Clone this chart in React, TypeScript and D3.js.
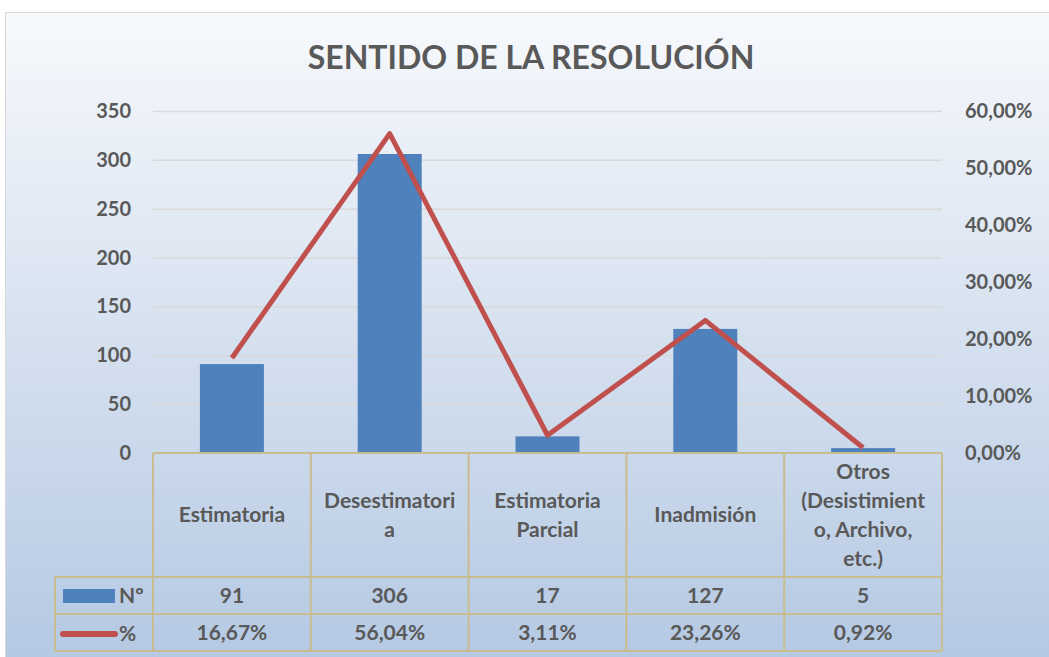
import React, { useRef, useLayoutEffect } from 'react';
import * as d3 from 'd3';

const categories = [
  ['Estimatoria'],
  ['Desestimatori', 'a'],
  ['Estimatoria', 'Parcial'],
  ['Inadmisión'],
  ['Otros', '(Desistimient', 'o, Archivo,', 'etc.)'],
];
const counts = [91, 306, 17, 127, 5];
const percents = [16.67, 56.04, 3.11, 23.26, 0.92];
const leftTicks = [0, 50, 100, 150, 200, 250, 300, 350];
const rightTicks = [0, 10, 20, 30, 40, 50, 60];

const fmtPct = (v: number) => v.toFixed(2).replace('.', ',') + '%';

const App = () => {
  const width = 1049;
  const height = 657;
  const ref = useRef(null);

  useLayoutEffect(() => {
    const svg = d3.select(ref.current);
    svg.selectAll('*').remove();

    const font = 'Lato, "Open Sans", sans-serif';
    const textColor = '#595959';
    const borderColor = '#C9BC8E';
    const plot = { left: 153, right: 942, top: 111, bottom: 453 };

    const defs = svg.append('defs');
    const grad = defs
      .append('linearGradient')
      .attr('id', 'bg')
      .attr('x1', 0)
      .attr('y1', 0)
      .attr('x2', 0)
      .attr('y2', 1);
    grad.append('stop').attr('offset', '0%').attr('stop-color', '#F7F9FC');
    grad.append('stop').attr('offset', '100%').attr('stop-color', '#B5C9E3');

    svg
      .append('rect')
      .attr('x', 5.5)
      .attr('y', 12.5)
      .attr('width', width - 5)
      .attr('height', height - 12)
      .attr('fill', 'url(#bg)')
      .attr('stroke', '#D9D9D9');

    svg
      .append('text')
      .text('SENTIDO DE LA RESOLUCIÓN')
      .attr('x', 531)
      .attr('y', 69)
      .attr('text-anchor', 'middle')
      .attr('font-family', font)
      .attr('font-weight', 'bold')
      .attr('font-size', 32)
      .attr('fill', textColor);

    const x = d3
      .scaleBand<number>()
      .domain(d3.range(categories.length))
      .range([plot.left, plot.right])
      .paddingInner(0)
      .paddingOuter(0);
    const y = d3.scaleLinear().domain([0, 350]).range([plot.bottom, plot.top]);
    const y2 = d3.scaleLinear().domain([0, 60]).range([plot.bottom, plot.top]);

    // gridlines
    svg
      .append('g')
      .selectAll('line')
      .data(leftTicks.slice(1))
      .enter()
      .append('line')
      .attr('x1', plot.left)
      .attr('x2', plot.right)
      .attr('y1', (d) => y(d) + 0.5)
      .attr('y2', (d) => y(d) + 0.5)
      .attr('stroke', '#D9D9D9')
      .attr('stroke-width', 1.5);

    // left axis labels
    svg
      .append('g')
      .selectAll('text')
      .data(leftTicks)
      .enter()
      .append('text')
      .text((d) => String(d))
      .attr('x', 131)
      .attr('y', (d) => y(d) + 7)
      .attr('text-anchor', 'end')
      .attr('font-family', font)
      .attr('font-weight', 'bold')
      .attr('font-size', 20)
      .attr('fill', textColor);

    // right axis labels
    svg
      .append('g')
      .selectAll('text')
      .data(rightTicks)
      .enter()
      .append('text')
      .text((d) => fmtPct(d))
      .attr('x', 965)
      .attr('y', (d) => y2(d) + 7)
      .attr('text-anchor', 'start')
      .attr('font-family', font)
      .attr('font-weight', 'bold')
      .attr('font-size', 20)
      .attr('fill', textColor);

    const barW = 64;
    const center = (i: number) => (x(i) as number) + x.bandwidth() / 2;

    svg
      .append('g')
      .selectAll('rect')
      .data(counts)
      .enter()
      .append('rect')
      .attr('x', (_, i) => center(i) - barW / 2)
      .attr('y', (d) => y(d))
      .attr('width', barW)
      .attr('height', (d) => plot.bottom - y(d))
      .attr('fill', '#4F81BD');

    const line = d3
      .line<number>()
      .x((_, i) => center(i))
      .y((d) => y2(d));
    svg
      .append('path')
      .datum(percents)
      .attr('d', line)
      .attr('fill', 'none')
      .attr('stroke', '#C0504D')
      .attr('stroke-width', 5)
      .attr('stroke-linejoin', 'round');

    // data table
    const rowTop = plot.bottom;
    const row1 = 577;
    const row2 = 614;
    const row3 = 651;
    const legendLeft = 55;
    const table = svg.append('g');
    const hline = (x1: number, x2: number, yy: number) =>
      table
        .append('line')
        .attr('x1', x1)
        .attr('x2', x2)
        .attr('y1', yy)
        .attr('y2', yy)
        .attr('stroke', borderColor)
        .attr('stroke-width', 2);
    const vline = (xx: number, y1: number, y2v: number) =>
      table
        .append('line')
        .attr('x1', xx)
        .attr('x2', xx)
        .attr('y1', y1)
        .attr('y2', y2v)
        .attr('stroke', borderColor)
        .attr('stroke-width', 2);

    hline(plot.left, plot.right, rowTop);
    hline(legendLeft, plot.right, row1);
    hline(legendLeft, plot.right, row2);
    hline(legendLeft, plot.right, row3);
    vline(legendLeft, row1, row3);
    categories.forEach((_, i) => vline(x(i) as number, rowTop, row3));
    vline(plot.right, rowTop, row3);

    const txt = (s: string, xx: number, yy: number, anchor = 'middle') =>
      table
        .append('text')
        .text(s)
        .attr('x', xx)
        .attr('y', yy)
        .attr('text-anchor', anchor)
        .attr('font-family', font)
        .attr('font-weight', 'bold')
        .attr('font-size', 21)
        .attr('fill', textColor);

    const lineH = 29;
    categories.forEach((lines, i) => {
      const mid = (rowTop + row1) / 2;
      const start = mid - ((lines.length - 1) * lineH) / 2 + 7;
      lines.forEach((l, j) => txt(l, center(i), start + j * lineH));
    });
    counts.forEach((c, i) => txt(String(c), center(i), (row1 + row2) / 2 + 7));
    percents.forEach((p, i) => txt(fmtPct(p), center(i), (row2 + row3) / 2 + 7));

    // legend keys
    table
      .append('rect')
      .attr('x', 63)
      .attr('y', 589)
      .attr('width', 52)
      .attr('height', 14)
      .attr('fill', '#4F81BD');
    txt('Nº', 119, 603, 'start');
    table
      .append('line')
      .attr('x1', 63)
      .attr('x2', 115)
      .attr('y1', 634)
      .attr('y2', 634)
      .attr('stroke', '#C0504D')
      .attr('stroke-width', 6)
      .attr('stroke-linecap', 'round');
    txt('%', 119, 641, 'start');
  }, []);

  return (
    <div style={{ position: 'absolute', left: 0, top: 0, width, height }}>
      <svg ref={ref} width={width} height={height} style={{ display: 'block' }} />
    </div>
  );
};

export default App;
